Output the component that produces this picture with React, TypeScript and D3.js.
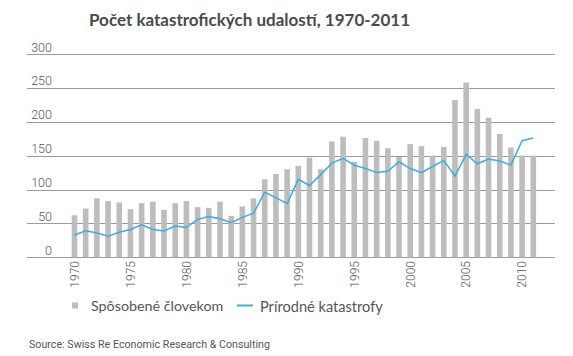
import React from "react";
import * as d3 from "d3";

const years: number[] = d3.range(1970, 2012);
const manMade: number[] = [
  62, 72, 87, 83, 81, 71, 80, 82, 70, 80,
  83, 74, 73, 82, 61, 75, 87, 115, 123, 130,
  135, 147, 130, 171, 178, 141, 176, 172, 161, 148,
  167, 164, 150, 163, 232, 258, 219, 206, 182, 162,
  150, 150,
];
const natural: number[] = [
  33, 39, 36, 31, 37, 41, 48, 41, 39, 46,
  44, 56, 60, 57, 51, 59, 65, 96, 88, 79,
  115, 106, 122, 139, 146, 136, 131, 125, 127, 141,
  131, 125, 134, 143, 120, 152, 138, 145, 142, 136,
  172, 176,
];
const yTicks: number[] = [0, 50, 100, 150, 200, 250, 300];
const xTickYears: number[] = [1970, 1975, 1980, 1985, 1990, 1995, 2000, 2005, 2010];

const title = "Počet katastrofických udalostí, 1970-2011";
const legendBar = "Spôsobené človekom";
const legendLine = "Prírodné katastrofy";
const source = "Source: Swiss Re Economic Research & Consulting";

export default function App() {
  const W = 573, H = 356;
  const x = d3.scaleBand<number>().domain(years).range([68.9, 538.9]).paddingInner(0.5).paddingOuter(0.25);
  const y = d3.scaleLinear().domain([0, 300]).range([257.3, 54]);
  const cx = (yr: number) => (x(yr) ?? 0) + x.bandwidth() / 2;
  const line = d3.line<number>().x((_, i) => cx(years[i])).y((d) => y(d)).curve(d3.curveLinear);
  const gridX0 = 27, gridX1 = 555;
  const txtFont = "Lato, 'Open Sans', sans-serif";
  const numFont = "Roboto, 'Liberation Sans', sans-serif";
  return (
    <svg width={W} height={H} style={{ position: "absolute", left: 0, top: 0, background: "#fff" }}>
      <text x={89} y={26} fontFamily={txtFont} fontWeight={700} fontSize={17} fill="#4a4a4a">{title}</text>
      {yTicks.map((t) => (
        <g key={t}>
          <line x1={gridX0} x2={gridX1} y1={Math.round(y(t)) + 0.5} y2={Math.round(y(t)) + 0.5} stroke="#9a9a9a" strokeWidth={1} />
          <text x={52} y={y(t) - 2.5} textAnchor="end" fontFamily={numFont} fontWeight={300} fontSize={12.5} fill="#555">{t}</text>
        </g>
      ))}
      {years.map((yr, i) => (
        <rect key={yr} x={x(yr)} y={y(manMade[i])} width={x.bandwidth()} height={y(0) - y(manMade[i])} fill="#bdbdbd" />
      ))}
      <path d={line(natural) ?? ""} fill="none" stroke="#3aaee0" strokeWidth={1.5} />
      {xTickYears.map((yr) => (
        <text key={yr} transform={`translate(${cx(yr) + 4.3},261) rotate(-90)`} textAnchor="end" fontFamily={numFont} fontWeight={300} fontSize={12} fill="#555">{yr}</text>
      ))}
      <rect x={72} y={302.5} width={6} height={6} fill="#bdbdbd" />
      <text x={91} y={310.5} fontFamily={txtFont} fontSize={14.3} fill="#555">{legendBar}</text>
      <line x1={237} x2={253} y1={305.5} y2={305.5} stroke="#3aaee0" strokeWidth={2} />
      <text x={260} y={312} fontFamily={txtFont} fontSize={14.6} fill="#555">{legendLine}</text>
      <text x={29} y={348} fontFamily={numFont} fontSize={10.7} fill="#555">{source}</text>
    </svg>
  );
}
